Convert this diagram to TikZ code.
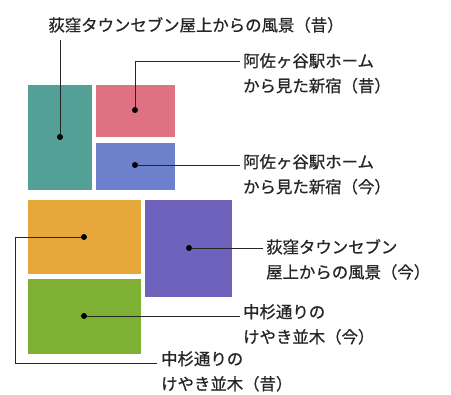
\documentclass[tikz,border=0pt]{standalone}
\usepackage{fontspec}
\setmainfont{Noto Sans CJK JP}
\newfontfamily\jpfont[FakeBold=0.8]{Noto Sans CJK JP}
\begin{document}
\begin{tikzpicture}[x=1pt,y=-1pt,
  dot/.style={circle,fill=black,inner sep=0pt,minimum size=6pt},
  lead/.style={draw=black!85,line width=0.8pt},
  lbl/.style={anchor=north west,inner sep=0pt,align=left,font=\jpfont\fontsize{16.4}{25}\selectfont,text=black!85}]
\useasboundingbox (0,0) rectangle (451,395);
\definecolor{cteal}{HTML}{52A096}
\definecolor{cpink}{HTML}{DE7282}
\definecolor{cblue}{HTML}{6E80CC}
\definecolor{corange}{HTML}{E6A83A}
\definecolor{cpurple}{HTML}{6F62BC}
\definecolor{cgreen}{HTML}{7EB034}
\fill[cteal] (28,85) rectangle (92,190);
\fill[cpink] (96,85) rectangle (175,137);
\fill[cblue] (96,143) rectangle (175,190);
\fill[corange] (28,200) rectangle (141,274);
\fill[cpurple] (145,200) rectangle (232,297);
\fill[cgreen] (28,279) rectangle (141,354);
% dots
\node[dot] (d1) at (60,137) {};
\node[dot] (d2) at (135,110) {};
\node[dot] (d3) at (135,165) {};
\node[dot] (d4) at (84,237) {};
\node[dot] (d5) at (189,248) {};
\node[dot] (d6) at (84,316) {};
% labels
\node[lbl,anchor=center] (t1) at (196,25) {荻窪タウンセブン屋上からの風景（昔）};
\node[lbl] (t2) at (243,53) {阿佐ヶ谷駅ホーム\\から見た新宿（昔）};
\node[lbl] (t3) at (243,154) {阿佐ヶ谷駅ホーム\\から見た新宿（今）};
\node[lbl] (t4) at (266,239) {荻窪タウンセブン\\屋上からの風景（今）};
\node[lbl] (t5) at (243,304) {中杉通りの\\けやき並木（今）};
\node[lbl] (t6) at (161,351) {中杉通りの\\けやき並木（昔）};
% leader ends
\coordinate (e1) at (60,40);
\coordinate (e2) at (240,61);
\coordinate (e3) at (240,165);
\coordinate (e5) at (263,248);
\coordinate (e6) at (240,316);
\coordinate (e4) at (157,363);
\draw[lead] (d1) -- (e1);
\draw[lead] (d2) |- (e2);
\draw[lead] (d3) -- (e3);
\draw[lead] (d5) -- (e5);
\draw[lead] (d6) -- (e6);
\draw[lead] (d4) -- (15,237) |- (e4);
\end{tikzpicture}
\end{document}
